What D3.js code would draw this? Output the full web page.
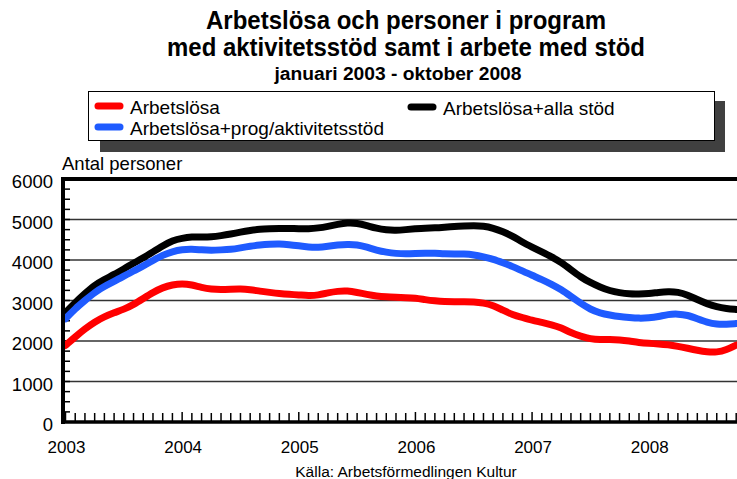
<!DOCTYPE html>
<html>
<head>
<meta charset="utf-8">
<script src="https://cdn.jsdelivr.net/npm/d3@7"></script>
<style>
  body { margin: 0; background: #fff; }
  text { font-family: "Liberation Sans", Arial, sans-serif; }
</style>
</head>
<body>
<div id="chart-area"></div>
<script>
// months from jan 2003 (index 0) to okt 2008 (index 69)
const years = ["2003", "2004", "2005", "2006", "2007", "2008"]
const yTicks = [0, 1000, 2000, 3000, 4000, 5000, 6000]

const arbetslosa = [
    1890, 2100, 2300, 2470, 2600, 2700, 2780, 2900, 3050, 3200, 3320, 3390,
    3420, 3390, 3320, 3280, 3270, 3280, 3290, 3270, 3230, 3200, 3170, 3150,
    3140, 3120, 3130, 3190, 3230, 3240, 3200, 3150, 3110, 3090, 3080, 3070,
    3060, 3020, 2990, 2970, 2970, 2970, 2970, 2940, 2880, 2760, 2650, 2580,
    2510, 2460, 2400, 2330, 2200, 2120, 2050, 2030, 2040, 2030, 2000, 1960,
    1940, 1930, 1910, 1870, 1820, 1770, 1730, 1720, 1780, 1900
]
const progAktivitet = [
    2550, 2800, 3000, 3200, 3350, 3470, 3600, 3730, 3850, 3990, 4120, 4210,
    4260, 4270, 4250, 4240, 4250, 4260, 4300, 4340, 4370, 4390, 4400, 4380,
    4350, 4320, 4310, 4340, 4370, 4390, 4380, 4320, 4240, 4190, 4160, 4150,
    4160, 4170, 4170, 4150, 4150, 4150, 4130, 4080, 4020, 3930, 3840, 3730,
    3620, 3520, 3400, 3270, 3100, 2930, 2780, 2690, 2640, 2600, 2580, 2560,
    2570, 2600, 2660, 2670, 2640, 2550, 2460, 2410, 2410, 2430
]
const allaStod = [
    2700, 2950, 3170, 3380, 3520, 3640, 3780, 3920, 4050, 4200, 4350, 4480,
    4540, 4570, 4570, 4570, 4600, 4640, 4690, 4730, 4760, 4770, 4780, 4780,
    4770, 4770, 4790, 4830, 4880, 4920, 4910, 4850, 4780, 4740, 4730, 4750,
    4770, 4790, 4790, 4810, 4830, 4840, 4850, 4840, 4790, 4700, 4590, 4440,
    4320, 4200, 4080, 3940, 3760, 3580, 3440, 3330, 3240, 3190, 3160, 3160,
    3170, 3200, 3220, 3210, 3140, 3020, 2920, 2840, 2800, 2780
]

const series = [
    { name: "Arbetslösa+alla stöd", values: allaStod, color: "#000000" },
    { name: "Arbetslösa+prog/aktivitetsstöd", values: progAktivitet, color: "#1f5bff" },
    { name: "Arbetslösa", values: arbetslosa, color: "#ff0000" }
]

const W = 737, H = 479
const PLOT = { LEFT: 63, RIGHT: 737, TOP: 179, BOTTOM: 422 }

const svg = d3.select("#chart-area")
    .append("svg")
    .attr("width", W)
    .attr("height", H)

const x = d3.scaleLinear().domain([0, 69]).range([65.5, 736.2])
const y = d3.scaleLinear().domain([0, 6000]).range([PLOT.BOTTOM, PLOT.TOP])

// titles
const titles = [
    { t: "Arbetslösa och personer i program", y: 29, size: 25, len: 400, cx: 406 },
    { t: "med aktivitetsstöd samt i arbete med stöd", y: 56, size: 25, len: 478, cx: 406 },
    { t: "januari 2003 - oktober 2008", y: 80, size: 18, len: 247, cx: 398 }
]
titles.forEach(d => {
    svg.append("text")
        .attr("x", d.cx - d.len / 2)
        .attr("y", d.y)
        .attr("textLength", d.len)
        .attr("lengthAdjust", "spacingAndGlyphs")
        .style("font-weight", "bold")
        .style("font-size", d.size + "px")
        .text(d.t)
})

// legend with shadow
svg.append("rect")
    .attr("x", 100).attr("y", 101)
    .attr("width", 625).attr("height", 51)
    .attr("fill", "#404040")
svg.append("rect")
    .attr("x", 88.5).attr("y", 91.5)
    .attr("width", 626).attr("height", 49)
    .attr("fill", "#fff")
    .attr("stroke", "#000")
    .attr("stroke-width", 1)

const legendPos = [
    { x: 98, y: 106 },
    { x: 98, y: 127 },
    { x: 411, y: 107 }
]
const legendOrder = [series[2], series[1], series[0]]
legendOrder.forEach((s, i) => {
    const p = legendPos[i]
    svg.append("line")
        .attr("x1", p.x).attr("x2", p.x + 22)
        .attr("y1", p.y).attr("y2", p.y)
        .attr("stroke", s.color)
        .attr("stroke-width", 7)
        .attr("stroke-linecap", "round")
    svg.append("text")
        .attr("x", p.x + 32)
        .attr("y", p.y + 8)
        .style("font-size", "19px")
        .text(s.name)
})

// gridlines
svg.append("g")
    .selectAll("line")
    .data(yTicks.filter(d => d > 0 && d < 6000))
    .enter().append("line")
    .attr("x1", PLOT.LEFT).attr("x2", PLOT.RIGHT)
    .attr("y1", d => y(d)).attr("y2", d => y(d))
    .attr("stroke", "#333")
    .attr("stroke-width", 1.5)

// minor y ticks, every 250
svg.append("g")
    .selectAll("line")
    .data(d3.range(250, 6000, 250))
    .enter().append("line")
    .attr("x1", PLOT.LEFT).attr("x2", PLOT.LEFT + 7)
    .attr("y1", d => y(d)).attr("y2", d => y(d))
    .attr("stroke", "#000")
    .attr("stroke-width", 1.5)

// monthly x ticks
svg.append("g")
    .selectAll("line")
    .data(d3.range(0, 70))
    .enter().append("line")
    .attr("x1", d => x(d)).attr("x2", d => x(d))
    .attr("y1", PLOT.BOTTOM)
    .attr("y2", d => PLOT.BOTTOM - (d % 12 === 0 ? 10 : 9))
    .attr("stroke", "#000")
    .attr("stroke-width", 1.5)

// series lines
const line = d3.line()
    .x((d, i) => x(i))
    .y(d => y(d))
    .curve(d3.curveBasis)

svg.append("g")
    .selectAll("path")
    .data(series)
    .enter().append("path")
    .attr("d", d => line(d.values))
    .attr("fill", "none")
    .attr("stroke", d => d.color)
    .attr("stroke-width", 7)
    .attr("stroke-linecap", "round")
    .attr("stroke-linejoin", "round")

// frame: left axis, bottom axis, top line
svg.append("line")
    .attr("x1", PLOT.LEFT).attr("x2", PLOT.LEFT)
    .attr("y1", PLOT.TOP - 2).attr("y2", PLOT.BOTTOM + 2)
    .attr("stroke", "#000").attr("stroke-width", 4)
svg.append("line")
    .attr("x1", PLOT.LEFT - 2).attr("x2", PLOT.RIGHT)
    .attr("y1", PLOT.BOTTOM).attr("y2", PLOT.BOTTOM)
    .attr("stroke", "#000").attr("stroke-width", 3.5)
svg.append("line")
    .attr("x1", PLOT.LEFT - 2).attr("x2", PLOT.RIGHT)
    .attr("y1", PLOT.TOP).attr("y2", PLOT.TOP)
    .attr("stroke", "#000").attr("stroke-width", 4)

// y labels
svg.append("g")
    .selectAll("text")
    .data(yTicks)
    .enter().append("text")
    .attr("x", 53)
    .attr("y", d => y(d) + 9)
    .attr("text-anchor", "end")
    .style("font-size", "18.5px")
    .text(d => d)

svg.append("text")
    .attr("x", 62)
    .attr("y", 170)
    .style("font-size", "18.5px")
    .text("Antal personer")

// x labels
svg.append("g")
    .selectAll("text")
    .data(years)
    .enter().append("text")
    .attr("x", (d, i) => x(i * 12) + 1)
    .attr("y", 453)
    .attr("text-anchor", "middle")
    .style("font-size", "17px")
    .text(d => d)

svg.append("text")
    .attr("x", 406)
    .attr("y", 477)
    .attr("text-anchor", "middle")
    .style("font-size", "15.5px")
    .text("Källa: Arbetsförmedlingen Kultur")
</script>
</body>
</html>
